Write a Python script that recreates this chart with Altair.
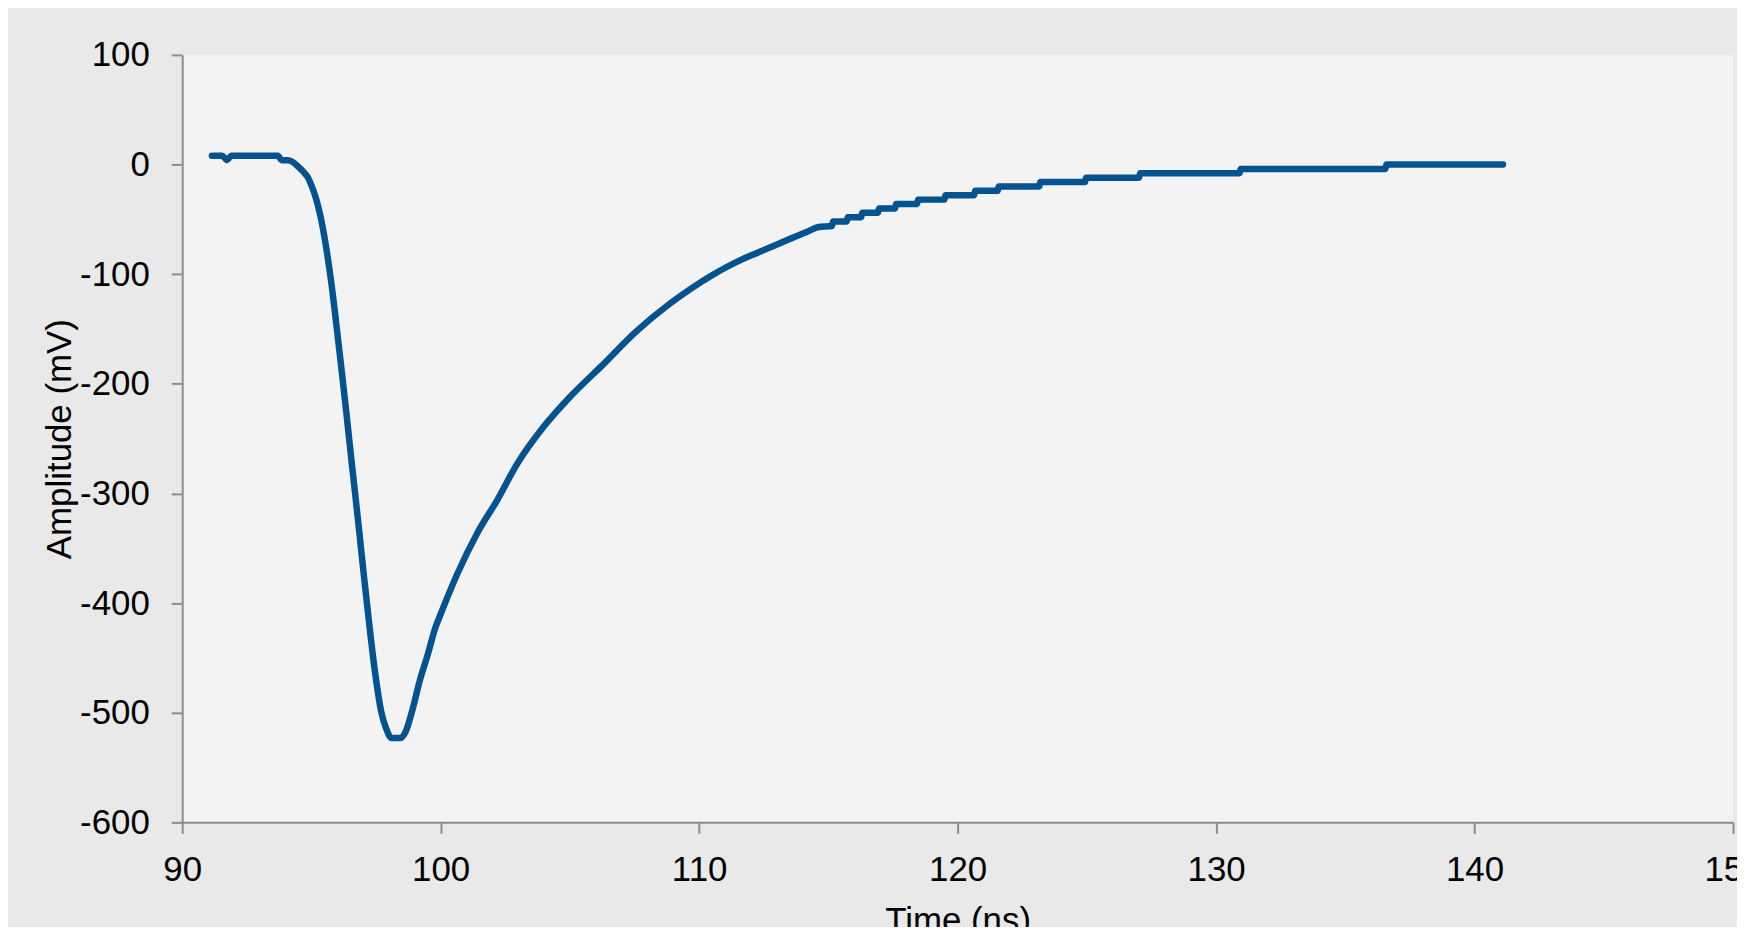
import altair as alt
import pandas as pd

# Time (ns) and amplitude (mV)
time_ns = [
    91.15, 91.55, 91.73, 91.9, 93.7, 93.85, 94.1, 94.3, 94.49, 94.7,
    94.87, 95.0, 95.19, 95.32, 95.45, 95.58, 95.77, 95.96, 96.15, 96.35,
    96.54, 96.69, 96.86, 97.03, 97.25, 97.45, 97.7, 97.9, 98.1, 98.45,
    98.65, 98.9, 99.2, 99.5, 99.8, 100.0, 100.65, 101.42, 102.19, 102.96,
    103.99, 105.0, 106.3, 107.58, 108.86, 109.76, 110.5, 111.1,
    111.7, 112.3, 112.9, 113.5, 114.2, 114.62,
    115.14, 115.18, 115.71, 115.75, 116.27, 116.31, 116.92, 116.96, 117.58, 117.62,
    118.43, 118.47, 119.49, 119.53, 120.64, 120.68, 121.55, 121.59, 123.16, 123.2,
    124.93, 124.97, 127.02, 127.06, 130.91, 130.95, 136.55, 136.59, 141.1,
]
amplitude_mv = [
    8, 8, 4, 8, 8, 4, 4, 2, -2, -7,
    -12, -19, -32, -44, -59, -77, -108, -145, -184, -226,
    -268, -300, -337, -375, -422, -461, -499, -515, -523, -523,
    -517, -498, -470, -447, -422, -410, -373, -336, -306, -273,
    -239, -212, -182, -152, -127, -112, -101, -93,
    -86, -80, -74, -68, -61, -57,
    -56, -52, -52, -48, -48, -44, -44, -40, -40, -36,
    -36, -32, -32, -28, -28, -24, -24, -20, -20, -16,
    -16, -12, -12, -8, -8, -4, -4, 0, 0,
]

x_ticks = [90, 100, 110, 120, 130, 140, 150]
y_ticks = [-600, -500, -400, -300, -200, -100, 0, 100]

df = pd.DataFrame({"t": time_ns, "a": amplitude_mv, "i": list(range(len(time_ns)))})

FONT = "Liberation Sans, Arial, sans-serif"
AXIS_GRAY = "#8c8c8c"
FS = 35

chart = (
    alt.Chart(df)
    .mark_line(
        color="#04528f",
        strokeWidth=6.5,
        strokeCap="round",
        strokeJoin="round",
        interpolate="monotone",
    )
    .encode(
        x=alt.X(
            "t:Q",
            scale=alt.Scale(domain=[90, 150], nice=False, zero=False),
            axis=alt.Axis(
                values=x_ticks,
                labelExpr="datum.value + ''",
                title="Time (ns)",
                grid=False,
                labelFont=FONT,
                labelFontSize=FS,
                labelColor="#000000",
                labelPadding=19,
                labelFlush=False,
                labelOverlap=False,
                tickSize=11,
                tickWidth=2,
                tickColor=AXIS_GRAY,
                domainColor=AXIS_GRAY,
                domainWidth=2,
                titleFont=FONT,
                titleFontSize=FS,
                titleFontWeight="normal",
                titleColor="#000000",
                titleBaseline="alphabetic",
                titleAnchor="middle",
                titleY=110,
            ),
        ),
        y=alt.Y(
            "a:Q",
            scale=alt.Scale(domain=[-600, 100], nice=False, zero=False),
            axis=alt.Axis(
                values=y_ticks,
                labelExpr="datum.value + ''",
                title="Amplitude (mV)",
                grid=False,
                labelFont=FONT,
                labelFontSize=FS,
                labelColor="#000000",
                labelPadding=22,
                labelFlush=False,
                labelOverlap=False,
                tickSize=11,
                tickWidth=2,
                tickColor=AXIS_GRAY,
                domainColor=AXIS_GRAY,
                domainWidth=2,
                titleFont=FONT,
                titleFontSize=FS,
                titleFontWeight="normal",
                titleColor="#000000",
                titleAngle=270,
                titleBaseline="alphabetic",
                titleAlign="center",
                titleX=-112,
                titleY=385.5,
            ),
        ),
        order="i:Q",
    )
    .properties(
        width=1558,
        height=771,
        autosize=alt.AutoSizeParams(type="none"),
        padding={"left": 175, "top": 45, "right": 4, "bottom": 103},
        background="#e9e9e9",
    )
    .configure_view(fill="#f3f3f3", stroke=None)
)

chart.save("out.html", embed_options={"renderer": "svg", "actions": False})
